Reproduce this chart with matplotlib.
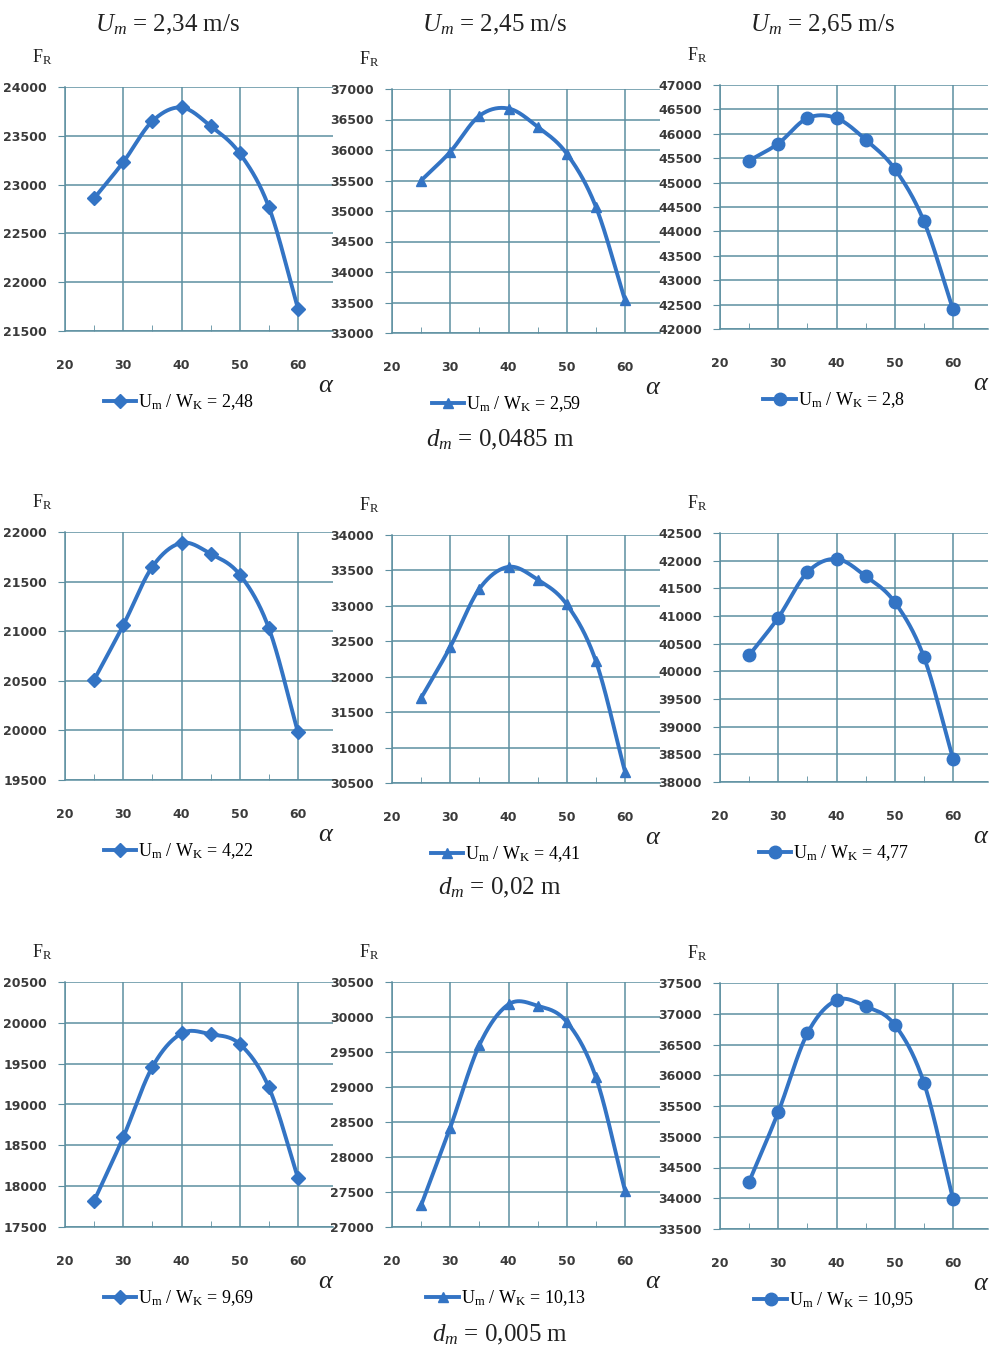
import numpy as np
import matplotlib
matplotlib.use("Agg")
import matplotlib.pyplot as plt

plt.rcParams["mathtext.fontset"] = "custom"
plt.rcParams["mathtext.rm"] = "Liberation Serif"
plt.rcParams["mathtext.it"] = "Liberation Serif:italic"

# ---- data -------------------------------------------------------------------
alpha = [25, 30, 35, 40, 45, 50, 55, 60]

fr_p1 = [22860, 23230, 23650, 23790, 23600, 23320, 22770, 21730]
fr_p2 = [35500, 35970, 36560, 36680, 36380, 35940, 35070, 33540]
fr_p3 = [45450, 45800, 46320, 46320, 45880, 45280, 44210, 42400]
fr_p4 = [20510, 21060, 21650, 21890, 21780, 21570, 21030, 19980]
fr_p5 = [31700, 32420, 33240, 33550, 33370, 33020, 32220, 30660]
fr_p6 = [40290, 40970, 41790, 42030, 41720, 41250, 40260, 38420]
fr_p7 = [17820, 18600, 19460, 19870, 19860, 19740, 19210, 18100]
fr_p8 = [27310, 28420, 29600, 30180, 30160, 29930, 29140, 27520]
fr_p9 = [34270, 35400, 36680, 37220, 37120, 36820, 35880, 33990]
series = [fr_p1, fr_p2, fr_p3, fr_p4, fr_p5, fr_p6, fr_p7, fr_p8, fr_p9]

ratio_labels = ["2,48", "2,59", "2,8", "4,22", "4,41", "4,77", "9,69", "10,13", "10,95"]
y_ranges = [(21500, 24000), (33000, 37000), (42000, 47000),
            (19500, 22000), (30500, 34000), (38000, 42500),
            (17500, 20500), (27000, 30500), (33500, 37500)]
um_titles = ["2,34", "2,45", "2,65"]
dm_labels = ["0,0485", "0,02", "0,005"]

# ---- layout (pixels in a 994x1350 canvas) ------------------------------------
W, H = 994, 1350
col_left = [65, 392, 720]
boxes = [(87, 331), (89, 333), (85, 329),
         (532, 780), (535, 783), (533, 782),
         (982, 1227), (982, 1227), (983, 1229)]
markers = ["D", "^", "o"]
msizes = [7, 7.5, 9]
BLUE = "#3374c4"
GRID = "#5d8fa0"
TXT = "#3a3a3a"


def smooth(x, y, n=30):
    """Catmull-Rom curve through the points (Excel style smoothed line)."""
    x = np.asarray(x, float); y = np.asarray(y, float)
    px = np.concatenate([[2 * x[0] - x[1]], x, [2 * x[-1] - x[-2]]])
    py = np.concatenate([[2 * y[0] - y[1]], y, [2 * y[-1] - y[-2]]])
    xs, ys = [], []
    t = np.linspace(0, 1, n)
    for i in range(1, len(px) - 2):
        for p, out in ((px, xs), (py, ys)):
            p0, p1, p2, p3 = p[i - 1], p[i], p[i + 1], p[i + 2]
            out.extend(0.5 * ((2 * p1) + (-p0 + p2) * t
                              + (2 * p0 - 5 * p1 + 4 * p2 - p3) * t ** 2
                              + (-p0 + 3 * p1 - 3 * p2 + p3) * t ** 3))
    return xs, ys


fig = plt.figure(figsize=(W / 100, H / 100), dpi=100)
serif = "Liberation Serif"

for k, fr in enumerate(series):
    row, col = divmod(k, 3)
    top, bot = boxes[k]
    left = col_left[col]
    width = 46 * 5.825
    ax = fig.add_axes([left / W, 1 - bot / H, width / W, (bot - top) / H])
    ylo, yhi = y_ranges[k]
    ax.set_xlim(20, 66)
    ax.set_ylim(ylo, yhi)
    ax.set_xticks([20, 30, 40, 50, 60])
    ax.set_xticks([25, 35, 45, 55], minor=True)
    ax.set_yticks(np.arange(ylo, yhi + 1, 500))
    ax.grid(True, which="major", color=GRID, lw=1.1)
    ax.set_axisbelow(True)
    for s in ("top", "right"):
        ax.spines[s].set_visible(False)
    for s in ("left", "bottom"):
        ax.spines[s].set_color(GRID)
        ax.spines[s].set_linewidth(1.1)
    ax.tick_params(axis="y", length=5, color=GRID, pad=8, labelsize=9,
                   labelcolor=TXT)
    ax.tick_params(axis="x", which="major", length=0, pad=20, labelsize=9,
                   labelcolor=TXT)
    ax.tick_params(axis="x", which="minor", direction="in", length=4,
                   color=GRID)
    for lab in ax.get_xticklabels() + ax.get_yticklabels():
        lab.set_fontweight("bold")

    sx, sy = smooth(alpha, fr)
    ax.plot(sx, sy, color=BLUE, lw=2.8, solid_capstyle="round")
    ax.plot(alpha, fr, ls="none", marker=markers[col], ms=msizes[col],
            color=BLUE, mec=BLUE)
    handle = plt.Line2D([], [], color=BLUE, lw=2.8, marker=markers[col],
                        ms=msizes[col])

    leg_cx = left + 114
    leg_cy = bot + 71
    ax.legend([handle], [r"U$_\mathrm{m}$ / W$_\mathrm{K}$ = " + ratio_labels[k]],
              loc="center", bbox_to_anchor=(leg_cx / W, 1 - leg_cy / H),
              bbox_transform=fig.transFigure, frameon=False, handlelength=1.8,
              handletextpad=0.1, prop={"family": serif, "size": 13})

    fig.text((left + 261) / W, 1 - (bot + 54) / H, r"$\alpha$", fontsize=19,
             ha="center", va="center", color="#222222")
    fig.text((left - 23) / W, 1 - (top - 30) / H, r"F$_\mathrm{R}$",
             family=serif, fontsize=13, ha="center", va="center", color="#222222")

# column headers
for col, um in enumerate(um_titles):
    fig.text((col_left[col] + 103) / W, 1 - 25 / H, r"$U_m$ = " + um + " m/s",
             family=serif, fontsize=18, ha="center", va="center", color="#222222")

# row captions
for row, dm in enumerate(dm_labels):
    cy = [440, 888, 1335][row]
    fig.text(500 / W, 1 - cy / H, r"$d_m$ = " + dm + " m", family=serif,
             fontsize=18, ha="center", va="center", color="#222222")

fig.savefig("out.png", dpi=100, facecolor="white")
